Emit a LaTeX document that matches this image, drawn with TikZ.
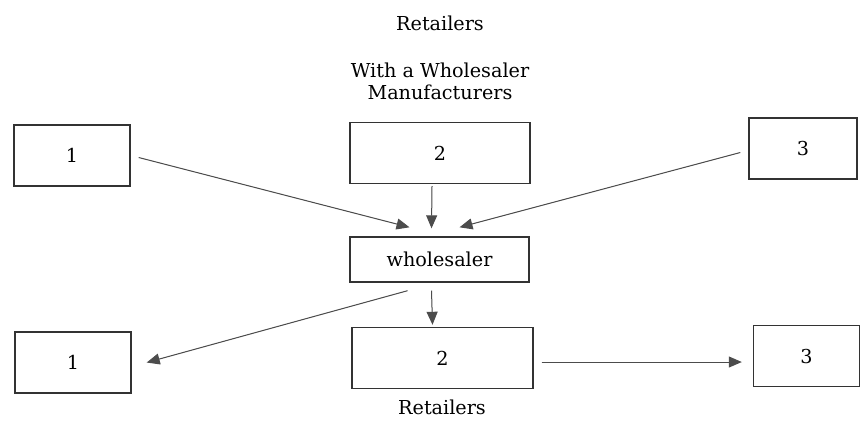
\documentclass[tikz,border=0pt]{standalone}
\usepackage{fontspec}
\setmainfont{DejaVu Serif}
\usepackage{tikz}
\usetikzlibrary{arrows.meta,calc}
\usepackage{xcolor}

\begin{document}
\begin{tikzpicture}[x=0.5pt,y=-0.5pt,
		font=\fontsize{9.6}{11}\selectfont,
		box/.style={draw=black!80,line width=0.7pt,rectangle,minimum height=30.5pt,inner sep=0pt},
		flow/.style={-{Triangle[length=6.5pt,width=5.5pt]},draw=black!70,fill=black!70,line width=0.5pt}]
					\useasboundingbox (0,0) rectangle (860,420);
					\node (ttl) at (440,23) {Retailers};
					\node[align=center] (sub) at (440,81) {With a Wholesaler\\Manufacturers};
					\node[box,minimum width=58pt] (m1) at (72,155.5) {1};
					\node[box,minimum width=90pt] (m2) at (440,153) {2};
					\node[box,minimum width=54pt] (m3) at (803,148.5) {3};
					\node[box,minimum width=89.5pt,minimum height=22.5pt] (whl) at (439.5,259.5) {wholesaler};
					\node[box,minimum width=58pt] (r1) at (73,362.5) {1};
					\node[box,minimum width=90.5pt] (r2) at (442.5,358) {2};
					\node[box,minimum width=53pt] (r3) at (806.5,356) {3};
					\node (btm) at (442,407) {Retailers};
					\draw[flow] ($(m1.east)+(8,2)$) -- ($(whl.north)+(-30,-9)$);
					\draw[flow] ($(m2.south)+(-8,2)$) -- ($(whl.north)+(-8,-8)$);
					\draw[flow] ($(m3.west)+(-8,4)$) -- ($(whl.north)+(20,-9)$);
					\draw[flow] ($(whl.south)+(-32,8)$) -- ($(r1.east)+(15,0)$);
					\draw[flow] ($(whl.south)+(-8,8)$) -- ($(r2.north)+(-10,-2)$);
					\draw[flow] ($(r2.east)+(8,4)$) -- ($(r3.west)+(-11,6)$);
				\end{tikzpicture}
\end{document}
